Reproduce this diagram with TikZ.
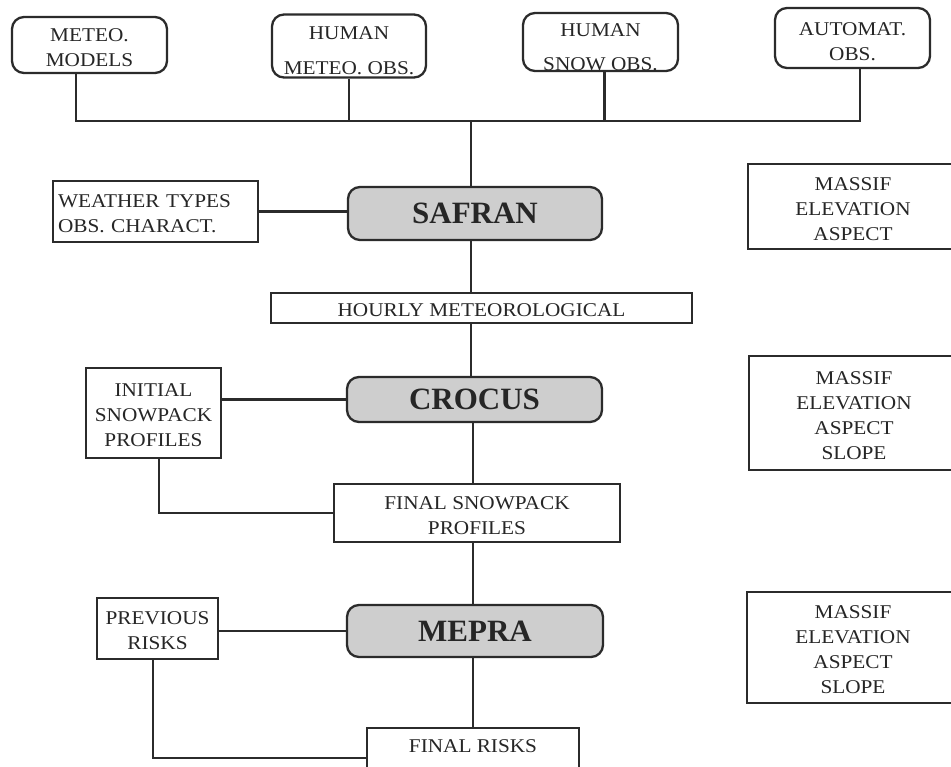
\documentclass[tikz,border=0pt]{standalone}
\usepackage{fontspec}
\setmainfont{Liberation Serif}[FakeStretch=1.09]
\newfontfamily\bigf{Liberation Serif}
\definecolor{linec}{HTML}{2B2B2B}
\definecolor{txtc}{HTML}{262626}
\definecolor{fillc}{HTML}{CECECE}
\newcommand\normtext{\fontsize{19.5}{25}\selectfont}
\newcommand\bigtext{\bigf\bfseries\fontsize{31}{36}\selectfont}
\tikzset{
  conn/.style={draw=linec, line width=2.3pt},
  rbox/.style={conn, rounded corners=12pt, fill=white, inner sep=0pt},
  gbox/.style={conn, rounded corners=12pt, fill=fillc, inner sep=0pt, font=\bigtext, text=txtc},
  sbox/.style={conn, fill=white, inner sep=0pt},
  inlabel/.style={font=\normtext, text=txtc, align=center, inner sep=0pt},
  T/.style={label={[inlabel, yshift=-2.5pt]center:{#1}}},
}
\begin{document}
\begin{tikzpicture}[x=1pt, y=-1pt]
\useasboundingbox (0,0) rectangle (951,767);
\clip (0,0) rectangle (951,767);
\fill[white] (0,0) rectangle (951,767);

% top sources
\node[rbox, minimum width=155pt, minimum height=56pt, T={METEO.\\MODELS}] (mm) at (89.5,45) {};
\node[rbox, minimum width=154pt, minimum height=63pt,
      label={[inlabel, yshift=-4.5pt]center:{HUMAN\\[10pt]METEO. OBS.}}] (hm) at (349,46) {};
\node[rbox, minimum width=155pt, minimum height=58pt,
      label={[inlabel, yshift=-5pt]center:{HUMAN\\[9pt]SNOW OBS.}}] (hs) at (600.5,42) {};
\node[rbox, minimum width=155pt, minimum height=60pt,
      label={[inlabel, yshift=-4pt]center:{AUTOMAT.\\OBS.}}] (ao) at (852.5,38) {};

\coordinate (busL) at (76,121);
\coordinate (busR) at (860,121);
\coordinate (bus) at (471,121);

% models
\node[gbox, minimum width=254pt, minimum height=53pt] (safran) at (475,213.5) {SAFRAN};
\node[gbox, minimum width=255pt, minimum height=45pt] (crocus) at (474.5,399.5) {CROCUS};
\node[gbox, minimum width=256pt, minimum height=52pt] (mepra) at (475,631) {MEPRA};

% side inputs
\node[sbox, minimum width=205pt, minimum height=61pt,
      label={[inlabel, align=left, text width=195pt, yshift=-2.5pt]center:{WEATHER TYPES\\OBS. CHARACT.}}] (wt) at (155.5,211.5) {};
\node[sbox, minimum width=135pt, minimum height=90pt, T={INITIAL\\SNOWPACK\\PROFILES}] (init) at (153.5,413) {};
\node[sbox, minimum width=121pt, minimum height=61pt, T={PREVIOUS\\RISKS}] (prev) at (157.5,628.5) {};

% outputs
\node[sbox, minimum width=421pt, minimum height=30pt, T={HOURLY METEOROLOGICAL}] (hourly) at (481.5,308) {};
\node[sbox, minimum width=286pt, minimum height=58pt, T={FINAL SNOWPACK\\PROFILES}] (fsp) at (477,513) {};
\node[sbox, minimum width=212pt, minimum height=52pt,
      label={[inlabel, yshift=8pt]center:FINAL RISKS}] (fr) at (473,754) {};

% right-hand parameter boxes
\node[sbox, minimum width=210pt, minimum height=85pt, T={MASSIF\\ELEVATION\\ASPECT}] (ms1) at (853,206.5) {};
\node[sbox, minimum width=210pt, minimum height=114pt, T={MASSIF\\ELEVATION\\ASPECT\\SLOPE}] (ms2) at (854,413) {};
\node[sbox, minimum width=212pt, minimum height=111pt, T={MASSIF\\ELEVATION\\ASPECT\\SLOPE}] (ms3) at (853,647.5) {};

% connectors
\draw[conn] (mm.south -| busL) -- (busL) -- (busR) -- (ao.south -| busR);
\draw[conn] (hm.south) -- (hm.south |- bus);
\draw[conn] ([xshift=4pt]hs.south) -- ([xshift=4pt]hs.south |- bus);
\draw[conn] (bus) -- (bus |- safran.north);
\draw[conn] (wt.east) -- (wt.east -| safran.west);
\draw[conn] (safran.south -| bus) -- (hourly.north -| bus);
\draw[conn] (hourly.south -| bus) -- (crocus.north -| bus);
\draw[conn] (init.east |- crocus.west) -- (crocus.west);
\draw[conn] ([xshift=-1.5pt]crocus.south) -- ([xshift=-1.5pt]crocus.south |- fsp.north);
\draw[conn] (init.south -| 159,0) |- (fsp.west);
\draw[conn] ([xshift=-1.5pt]fsp.south -| crocus.south) -- ([xshift=-1.5pt]mepra.north -| crocus.south);
\draw[conn] (prev.east |- mepra.west) -- (mepra.west);
\draw[conn] (prev.south -| 153,0) |- ([yshift=-4pt]fr.west);
\draw[conn] (mepra.south -| fr.north) -- (fr.north);
\end{tikzpicture}
\end{document}
